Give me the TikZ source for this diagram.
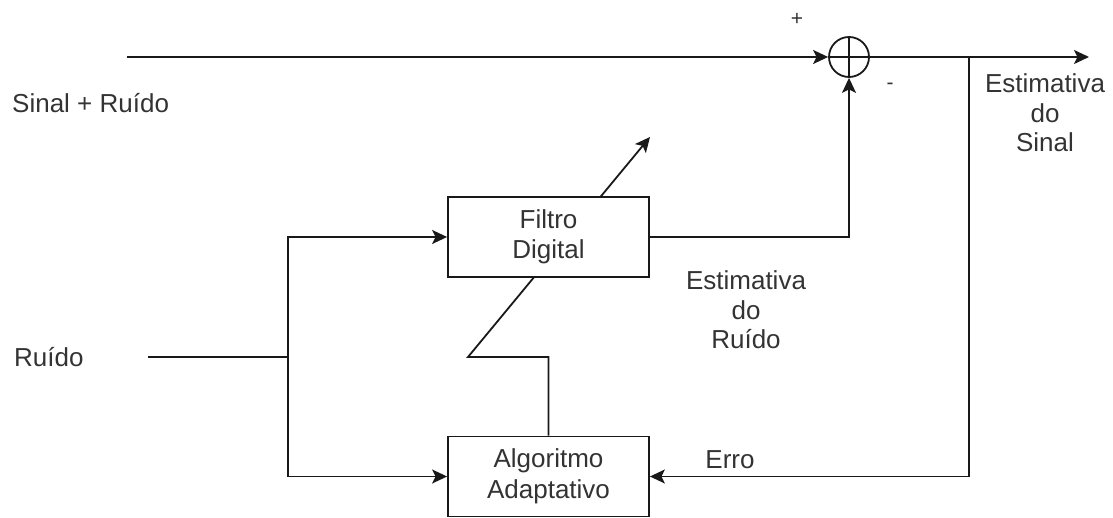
\documentclass[tikz,border=0pt]{standalone}
\usepackage{fontspec}
\setmainfont{Liberation Sans}
\usetikzlibrary{arrows.meta,backgrounds}
\definecolor{txt}{HTML}{333333}
\begin{document}
\begin{tikzpicture}[x=1pt,y=-1pt,
  wire/.style={line width=1.8pt,draw=black!90},
  arr/.style={wire,-{Stealth[length=15pt,width=14pt,inset=3.5pt]}},
  blk/.style={draw=black!90,line width=1.8pt,fill=white,minimum width=201pt,minimum height=80pt,inner sep=0pt,align=center,text=txt,font=\fontsize{26}{30.5}\selectfont},
  lbl/.style={text=txt,font=\fontsize{26}{29.5}\selectfont,inner sep=0pt,align=center},
  sml/.style={text=txt,font=\fontsize{21}{22}\selectfont,inner sep=0pt}]
\useasboundingbox (0,0) rectangle (1113,518);
\node[draw=black!90,line width=1.8pt,circle,minimum size=40pt,inner sep=0pt] (sum) at (849,57) {};
\node[blk] (filt) at (548.5,237) {Filtro\\Digital};
\node[blk] (alg) at (548.5,476.5) {Algoritmo\\Adaptativo};
\coordinate (in1) at (127,57);
\coordinate (out) at (1089,57);
\coordinate (br) at (969,57);
\coordinate (rin) at (148,357);
\coordinate (rj) at (288,357);
\coordinate (kn) at (468,357);
\coordinate (tip) at (650,137);
% cross inside summing junction
\draw[wire] (sum.north) -- (sum.south);
\draw[wire] (sum.west) -- (sum.east);
% connectors
\draw[arr] (in1) -- (sum.west);
\draw[arr] (sum.east) -- (out);
\draw[arr] (br) |- (alg.east);
\draw[arr] (filt.east) -| (sum.south);
\draw[wire] (rin) -- (rj);
\draw[arr] (rj) |- (filt.west);
\draw[arr] (rj) |- (alg.west);
\begin{scope}[on background layer]
\draw[arr] (alg.north) |- (kn) -- (tip);
\end{scope}
% labels
\node[lbl,anchor=west] (l1) at (12,103) {Sinal + Ruído};
\node[lbl,anchor=west] (l2) at (14,357) {Ruído};
\node[sml] (lp) at (797,19) {+};
\node[sml] (lm) at (890,86) {-};
\node[lbl] (l3) at (1045,113) {Estimativa\\do\\Sinal};
\node[lbl] (l4) at (746,310) {Estimativa\\do\\Ruído};
\node[lbl] (l5) at (730,460) {Erro};
\end{tikzpicture}
\end{document}
